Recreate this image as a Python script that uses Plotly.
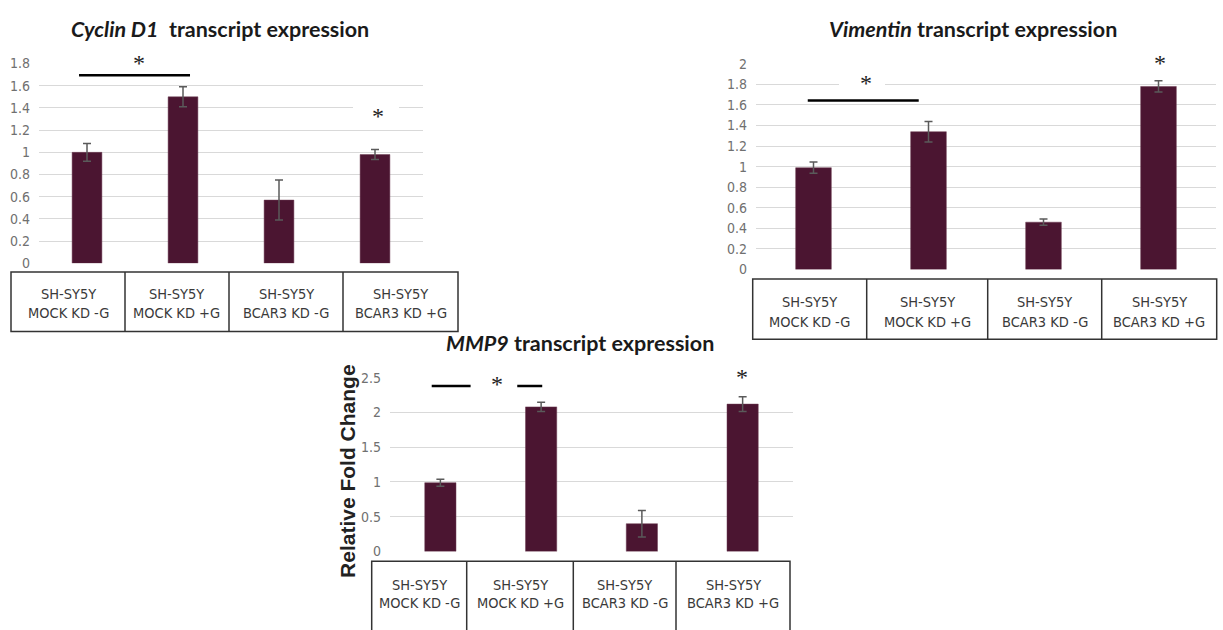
import plotly.graph_objects as go

# ---------------- data ----------------
cell_line = "SH-SY5Y"
categories = ["MOCK KD -G", "MOCK KD +G", "BCAR3 KD -G", "BCAR3 KD +G"]

cyclin_values = [1.00, 1.50, 0.57, 0.98]
cyclin_errors = [0.08, 0.09, 0.18, 0.045]

vimentin_values = [0.99, 1.34, 0.46, 1.78]
vimentin_errors = [0.055, 0.10, 0.03, 0.055]

mmp9_values = [0.99, 2.08, 0.40, 2.12]
mmp9_errors = [0.05, 0.065, 0.19, 0.105]

cyclin_ticks = [0, 0.2, 0.4, 0.6, 0.8, 1, 1.2, 1.4, 1.6, 1.8]
cyclin_ticktext = ["0", "0.2", "0.4", "0.6", "0.8", "1", "1.2", "1.4", "1.6", "1.8"]
vimentin_ticks = [0, 0.2, 0.4, 0.6, 0.8, 1, 1.2, 1.4, 1.6, 1.8, 2]
vimentin_ticktext = ["0", "0.2", "0.4", "0.6", "0.8", "1", "1.2", "1.4", "1.6", "1.8", "2"]
mmp9_ticks = [0, 0.5, 1, 1.5, 2, 2.5]
mmp9_ticktext = ["0", "0.5", "1", "1.5", "2", "2.5"]

titles = ["<i>Cyclin D1</i>  transcript expression",
          "<i>Vimentin</i> transcript expression",
          "<i>MMP9</i> transcript expression"]
y_title = "Relative Fold Change"

# ---------------- layout helpers ----------------
W, H = 1223, 630
def px(x):
    return x / W
def py(y):
    return 1 - y / H

BAR_COLOR = "#4b1531"
ERR_COLOR = "#5a5a5a"
GRID_COLOR = "#d9d9d9"
BOX_COLOR = "#333333"
TICK_FONT = dict(family="'Liberation Sans Narrow', 'Arial Narrow', 'DejaVu Sans Condensed', sans-serif",
                 size=14, color="#707070")
LABEL_FONT = dict(family="'Liberation Sans Narrow', 'Arial Narrow', 'DejaVu Sans Condensed', sans-serif",
                  size=14.5, color="#3a3a3a")
TITLE_FONT = dict(family="Lato, 'Open Sans', sans-serif", size=21.5, color="#1a1a1a")
STAR_FONT = dict(family="'Liberation Serif', serif", size=24, color="#222222")

panels = [
    dict(values=cyclin_values, errors=cyclin_errors, ticks=cyclin_ticks, ticktext=cyclin_ticktext,
         ymax=1.8, plot=(39, 423, 57, 262), title=titles[0], title_pos=(220, 22),
         box=(11, 458, 271, 332), dividers=[125, 229, 343], text_y=(293, 313),
         sig_lines=[(-0.083, 1.073, 1.695)],
         stars=[(0.54, 52), (3.03, 107)],
         masks=[(113, 159, 47, 65), (353, 399, 97, 112)]),
    dict(values=vimentin_values, errors=vimentin_errors, ticks=vimentin_ticks, ticktext=vimentin_ticktext,
         ymax=2.0, plot=(756, 1216, 57.3, 268.3), title=titles[1], title_pos=(973, 22),
         box=(752.7, 1216.7, 278, 340), dividers=[866.7, 987.7, 1101.7], text_y=(301.7, 321.7),
         sig_lines=[(-0.05, 0.915, 1.643)],
         stars=[(0.454, 72.7), (3.013, 52.3)],
         masks=[(839, 885, 50, 86), (1133, 1180, 50, 64)]),
    dict(values=mmp9_values, errors=mmp9_errors, ticks=mmp9_ticks, ticktext=mmp9_ticktext,
         ymax=2.5, plot=(390, 793, 379.3, 557.7), title=titles[2], title_pos=(580, 344),
         box=(371.7, 790, 567.7, 650), dividers=[466.7, 573.3, 676], text_y=(591.7, 610.7),
         sig_lines=[(-0.086, 0.30, 2.38), (0.763, 1.011, 2.38)],
         stars=[(0.564, 381.7), (2.995, 374.3)],
         masks=[(716.7, 761.7, 372, 386)]),
]

fig = go.Figure()
shapes = []
annotations = []

for i, p in enumerate(panels):
    n = "" if i == 0 else str(i + 1)
    xa, ya = "x" + n, "y" + n
    fig.add_trace(go.Bar(
        x=categories, y=p["values"], xaxis=xa, yaxis=ya, width=0.31,
        marker=dict(color=BAR_COLOR, line=dict(color="#6a3a50", width=0.5)),
        error_y=dict(type="data", array=p["errors"], color=ERR_COLOR, thickness=1.5, width=4),
        showlegend=False,
    ))
    x0, x1, yt, yb = p["plot"]
    fig.update_layout(**{
        "xaxis" + n: dict(domain=[px(x0), px(x1)], anchor=ya, type="category",
                          range=[-0.5, 3.5], showticklabels=False, showgrid=False,
                          zeroline=False, showline=False, fixedrange=True),
        "yaxis" + n: dict(domain=[py(yb), py(yt)], anchor=xa, range=[0, p["ymax"]],
                          tickvals=p["ticks"], ticktext=p["ticktext"], showgrid=True,
                          gridcolor=GRID_COLOR, gridwidth=1, zeroline=False, showline=False,
                          ticks="", tickfont=TICK_FONT, ticklabelstandoff=8, fixedrange=True),
    })
    # white masks: gridline gaps behind the asterisks
    for (mx0, mx1, my0, my1) in p["masks"]:
        shapes.append(dict(type="rect", xref="paper", yref="paper", x0=px(mx0), x1=px(mx1),
                           y0=py(my1), y1=py(my0), fillcolor="white", line=dict(width=0),
                           layer="above"))
    # significance bars
    for (sx0, sx1, sy) in p["sig_lines"]:
        shapes.append(dict(type="line", xref=xa, yref=ya, x0=sx0, x1=sx1, y0=sy, y1=sy,
                           line=dict(color="black", width=2.5), layer="above"))
    # asterisks
    for (sx, sy) in p["stars"]:
        annotations.append(dict(xref=xa, yref="paper", x=sx, y=py(sy), text="*", showarrow=False,
                                font=STAR_FONT, yshift=-4, xanchor="center", yanchor="middle"))
    # title
    tx, ty = p["title_pos"]
    annotations.append(dict(xref="paper", yref="paper", x=px(tx), y=py(ty), text="<b>" + p["title"] + "</b>",
                            showarrow=False, font=TITLE_FONT, xanchor="center", yanchor="middle"))
    # category box
    bx0, bx1, by0, by1 = p["box"]
    shapes.append(dict(type="rect", xref="paper", yref="paper", x0=px(bx0), x1=px(bx1),
                       y0=py(by1), y1=py(by0), line=dict(color=BOX_COLOR, width=1.5)))
    edges = [bx0] + p["dividers"] + [bx1]
    for d in p["dividers"]:
        shapes.append(dict(type="line", xref="paper", yref="paper", x0=px(d), x1=px(d),
                           y0=py(by1), y1=py(by0), line=dict(color=BOX_COLOR, width=1.5)))
    for k, cat in enumerate(categories):
        cx = (edges[k] + edges[k + 1]) / 2
        annotations.append(dict(xref="paper", yref="paper", x=px(cx), y=py(p["text_y"][0]),
                                text=cell_line, showarrow=False, font=LABEL_FONT,
                                xanchor="center", yanchor="middle"))
        annotations.append(dict(xref="paper", yref="paper", x=px(cx), y=py(p["text_y"][1]),
                                text=cat, showarrow=False, font=LABEL_FONT,
                                xanchor="center", yanchor="middle"))

annotations.append(dict(xref="paper", yref="paper", x=px(348), y=py(475), text="<b>" + y_title + "</b>",
                        textangle=-90, showarrow=False,
                        font=dict(family="'Liberation Sans', Arial, sans-serif", size=21, color="#222222"),
                        xanchor="center", yanchor="middle"))

fig.update_layout(width=W, height=H, margin=dict(l=0, r=0, t=0, b=0),
                  paper_bgcolor="white", plot_bgcolor="white",
                  shapes=shapes, annotations=annotations, bargap=0.69)

fig.write_html("out.html")
